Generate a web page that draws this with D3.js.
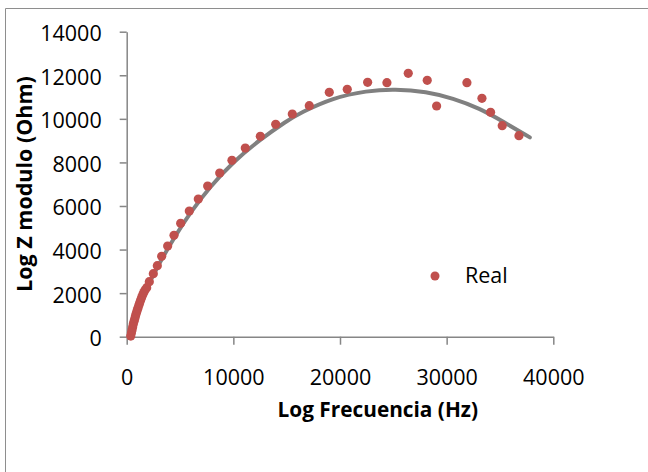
<!DOCTYPE html>
<html>
<head>
<meta charset="utf-8">
<script src="https://cdn.jsdelivr.net/npm/d3@7"></script>
<style>
  body { margin: 0; background: #fff; overflow: hidden; }
  svg { display: block; font-family: "Open Sans", "Liberation Sans", sans-serif; }
</style>
</head>
<body>
<div id="chart"></div>
<script>
// measured points (Real)
const realFreq = [380, 440, 500, 560, 620, 690, 760, 830, 900, 980, 1060, 1140, 1220, 1310, 1400, 1500, 1600, 1720,
  1875, 2120, 2495, 2870, 3280, 3840, 4435, 5060, 5870, 6715, 7590, 8720, 9870, 11120, 12530, 13970, 15527,
  17120, 18995, 20680, 22590, 24400, 26400, 28180, 29060, 31900, 33310, 34120, 35210, 36780];
const realZ = [30, 170, 310, 450, 580, 710, 840, 960, 1080, 1200, 1320, 1440, 1560, 1680, 1800, 1920, 2030, 2140,
  2249, 2525, 2892, 3259, 3690, 4163, 4654, 5203, 5770, 6321, 6917, 7514, 8096, 8660, 9197, 9748, 10222,
  10603, 11218, 11355, 11677, 11660, 12090, 11770, 10590, 11660, 10940, 10300, 9685, 9227];

// trend line
const fitFreq = [250, 600, 1000, 1550, 2950, 4500, 5950, 7800, 10000, 12500, 15000, 16250, 19350, 22500, 25150, 28100, 30600, 33100, 35300, 37800];
const fitZ = [0, 700, 1300, 1900, 3290, 4590, 5690, 6880, 8030, 9050, 9900, 10270, 10970, 11290, 11370, 11250, 10940, 10480, 9870, 9150];

const xTicks = [0, 10000, 20000, 30000, 40000];
const yTicks = [0, 2000, 4000, 6000, 8000, 10000, 12000, 14000];

const width = 648;
const height = 472;

const svg = d3.select("#chart")
  .append("svg")
  .attr("width", width)
  .attr("height", height);

// chart area border, only left and top edges are inside the picture
svg.append("path")
  .attr("d", "M5.5,472V8.5H648")
  .attr("fill", "none")
  .attr("stroke", "#8e8e8e")
  .attr("stroke-width", 1);

const x = d3.scaleLinear().domain([0, 40000]).range([126.7, 553.3]);
const y = d3.scaleLinear().domain([0, 14000]).range([336.7, 31.7]);

// axes
const xAxis = svg.append("g")
  .attr("transform", `translate(0,${y(0)})`)
  .call(d3.axisBottom(x).tickValues(xTicks).tickFormat(d3.format("d")).tickSize(8).tickSizeOuter(0));

const yAxis = svg.append("g")
  .attr("transform", `translate(${x(0)},0)`)
  .call(d3.axisLeft(y).tickValues(yTicks).tickFormat(d3.format("d")).tickSize(7).tickSizeOuter(0));

[xAxis, yAxis].forEach(g => {
  g.select(".domain").attr("stroke", "#868686").attr("stroke-width", 1.5);
  g.selectAll(".tick line").attr("stroke", "#868686").attr("stroke-width", 1.5);
  g.selectAll("text")
    .attr("fill", "#000")
    .style("font-family", "'Open Sans', sans-serif")
    .style("font-size", "21.5px");
});

xAxis.selectAll("text").attr("y", 48.3).attr("dy", 0);
yAxis.selectAll("text").attr("x", -25).attr("dy", 9);

// trend line
const line = d3.line()
  .x((d, i) => x(fitFreq[i]))
  .y((d, i) => y(fitZ[i]))
  .curve(d3.curveBasis);

svg.append("path")
  .datum(fitZ)
  .attr("d", line)
  .attr("fill", "none")
  .attr("stroke", "#808080")
  .attr("stroke-width", 4)
  .attr("stroke-linecap", "round");

// markers
svg.append("g")
  .selectAll("circle")
  .data(realZ)
  .join("circle")
  .attr("cx", (d, i) => x(realFreq[i]))
  .attr("cy", d => y(d))
  .attr("r", 4.6)
  .attr("fill", "#c0504d");

// axis titles
svg.append("text")
  .attr("x", 377.8)
  .attr("y", 416.5)
  .attr("text-anchor", "middle")
  .style("font-size", "20.8px")
  .style("font-weight", "bold")
  .text("Log Frecuencia (Hz)");

svg.append("text")
  .attr("transform", "translate(32,184) rotate(-90)")
  .attr("text-anchor", "middle")
  .style("font-size", "21.5px")
  .style("font-weight", "bold")
  .text("Log Z modulo (Ohm)");

// legend
svg.append("circle")
  .attr("cx", 435)
  .attr("cy", 276)
  .attr("r", 4.5)
  .attr("fill", "#c0504d");

svg.append("text")
  .attr("x", 465)
  .attr("y", 283)
  .style("font-size", "21.5px")
  .text("Real");
</script>
</body>
</html>
